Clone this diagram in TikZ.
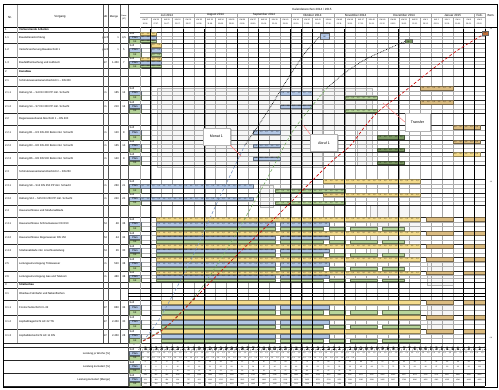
\documentclass[tikz,border=0pt]{standalone}
\usepackage{fontspec}
\setmainfont{Liberation Sans}
\usetikzlibrary{shadows}

\definecolor{gelb}{HTML}{F4DB8C}
\definecolor{blau}{HTML}{B3C7E5}
\definecolor{gruen}{HTML}{B7D59B}
\definecolor{dgruen}{HTML}{7E9B66}
\definecolor{ocker}{HTML}{DCBD82}
\definecolor{rost}{HTML}{BF6F3A}
\definecolor{kurveA}{HTML}{7390C0}
\definecolor{kurveB}{HTML}{6FA85A}

\newcommand{\zbreite}{5.390625}
% Balken: Stil, von Zelle, bis Zelle, Zeile oben, Zeile unten, Teilzeile, Zahl
\newcommand{\balken}[7]{%
  \pgfmathsetmacro{\bxa}{140+#2*\zbreite}%
  \pgfmathsetmacro{\bxb}{140+#3*\zbreite}%
  \pgfmathsetmacro{\bya}{#4+#6*(#5-#4)/3+0.6}%
  \pgfmathsetmacro{\byb}{#4+(#6+1)*(#5-#4)/3-0.6}%
  \draw[#1] (\bxa,\bya) rectangle (\bxb,\byb);%
  \ifx\relax#7\relax\else
    \pgfmathtruncatemacro{\bcl}{#3-1}%
    \foreach \cc in {#2,...,\bcl}
      \node[zahl] at ({140+(\cc+0.5)*\zbreite},{(\bya+\byb)/2}) {#7};%
  \fi}
% Teilzeilen Soll / Plan / Ist
\newcommand{\teilzeilen}[2]{%
  \pgfmathsetmacro{\tha}{#1+(#2-#1)/3}%
  \pgfmathsetmacro{\thb}{#1+2*(#2-#1)/3}%
  \draw[teil] (128,\tha) -- (485,\tha);%
  \draw[teil] (128,\thb) -- (485,\thb);%
  \node[lbl, anchor=west] at (129.5,{(#1+\tha)/2}) {Soll};%
  \draw[fill=blau, draw=blau!50!black, line width=0.3pt] (129,\tha+0.3) rectangle (141,\thb-0.3);%
  \node[lbl] at (135,{(\tha+\thb)/2}) {Plan};%
  \draw[fill=gruen, draw=gruen!50!black, line width=0.3pt] (129,\thb+0.3) rectangle (141,#2-0.3);%
  \node[lbl] at (135,{(\thb+#2)/2}) {Ist};}

\begin{document}
\begin{tikzpicture}[x=1pt, y=-1pt,
  lbl/.style={font=\fontsize{2.7}{3}\selectfont, inner sep=0pt},
  kopf/.style={font=\fontsize{3}{3.4}\selectfont, inner sep=0pt},
  kw/.style={font=\fontsize{1.9}{2.2}\selectfont, inner sep=0pt},
  zahl/.style={font=\fontsize{1.7}{2}\selectfont, inner sep=0pt},
  raster/.style={gray!70, line width=0.3pt},
  zeile/.style={black!85, line width=0.5pt},
  teil/.style={gray!65, line width=0.3pt},
  dick/.style={black, line width=0.9pt},
  kasten/.style={draw=gray!55, fill=gray!7, line width=0.5pt},
  gb/.style={fill=gelb, draw=gelb!60!black, line width=0.2pt},
  bb/.style={fill=blau, draw=blau!55!black, line width=0.2pt},
  grb/.style={fill=gruen, draw=gruen!55!black, line width=0.2pt},
  dgb/.style={fill=dgruen, draw=dgruen!55!black, line width=0.2pt},
  ob/.style={fill=ocker, draw=ocker!55!black, line width=0.2pt},
  endbox/.style={draw=black!60, line width=0.3pt, inner sep=0pt, font=\fontsize{1.7}{2}\selectfont},
  callout/.style={draw=gray!60, fill=white, line width=0.4pt, inner sep=1pt,
    drop shadow={shadow xshift=1.5pt, shadow yshift=-1.5pt, opacity=0.35},
    font=\fontsize{3.6}{4}\selectfont, minimum width=27pt, minimum height=17pt},
  zeiger/.style={red!55!white, line width=0.45pt}]

% Blatt
\fill[white] (0,0) rectangle (499,390);
\useasboundingbox (0,0) rectangle (499,390);

% schattierte Bereiche
\draw[kasten] (157,88) rectangle (322,167);
\draw[kasten] (322,88) rectangle (372,130);
\draw[kasten] (357,130) rectangle (372,165);
\draw[kasten] (260,185) rectangle (273,207);
\draw[kasten] (370,205) rectangle (420,258);
\draw[kasten] (427,258) rectangle (453,285);
\draw[kasten] (427,300) rectangle (453,333);

% Kopf Zeitachse
\node[kopf] (titel) at (312,9.5) {Kalenderwochen 2014 / 2015};
\draw[raster] (140,13) -- (485,13);
\draw[raster] (140,17) -- (485,17);
\foreach \ma/\mb/\mon [count=\i] in {0/5/Juli 2014,5/9/August 2014,9/14/September 2014,14/18/Oktober 2014,18/22/November 2014,22/27/Dezember 2014,27/31/Januar 2015,31/32/Feb.}{
  \draw[gray!70, line width=0.4pt] ({140+\mb*2*\zbreite},13) -- ({140+\mb*2*\zbreite},27);
  \node[kopf] (mon\i) at ({140+(\ma+\mb)*\zbreite},15.2) {\mon};
}
\foreach \kw/\dat [count=\i] in {27/30.06.,28/07.07.,29/14.07.,30/21.07.,31/28.07.,32/04.08.,33/11.08.,34/18.08.,35/25.08.,36/01.09.,37/08.09.,38/15.09.,39/22.09.,40/29.09.,41/06.10.,42/13.10.,43/20.10.,44/27.10.,45/03.11.,46/10.11.,47/17.11.,48/24.11.,49/01.12.,50/08.12.,51/15.12.,52/22.12.,1/29.12.,2/05.01.,3/12.01.,4/19.01.,5/26.01.,6/02.02.}{
  \pgfmathsetmacro{\xr}{140+\i*2*\zbreite}
  \draw[raster] (\xr,17) -- (\xr,386);
  \node[kw] (kw\i) at ({\xr-\zbreite},19.8) {KW \kw};
  \node[kw] (dat\i) at ({\xr-\zbreite},23.6) {\dat};
}

% Kopf Tabelle
\node[kopf] (hnr) at (10,17) {Nr.};
\node[kopf] (hname) at (60,17) {Vorgang};
\node[lbl] (hme) at (105.5,17) {ME};
\node[lbl] (hmg) at (114,17) {Menge};
\node[kw] (hdauer) at (124,15.5) {Dauer};
\node[kw] (hat) at (124,19) {[AT]};
\node[kopf] (hbem) at (491,15) {Bem.};
\draw[black, line width=0.8pt] (3,27) -- (497,27);

% Vorgaenge
\foreach \yt/\yb/\nr/\txt/\me/\mg/\du/\typ [count=\k] in {
  27/32/1/\textbf{Vorbereitende Arbeiten}/{}/{}/{}/s,
  32/43/1.1/Baustelleneinrichtung/psch/1/{4,5}/b,
  43/57/1.2/Verkehrssicherung Bauabschnitt 1/psch/1/5/b,
  57/68/1.3/Baufeldfreimachung und Aufbruch/m²/1.450/7/b,
  68/76/2/\textbf{Kanalbau}/{}/{}/{}/s,
  76/86/2.1/Schmutzwasserkanal Abschnitt 1 -- DN 300/{}/{}/{}/s,
  86/100/2.1.1/Haltung S1 -- S4 DN 300 PP inkl. Schacht/m/185/12/b,
  100/113/2.1.2/Haltung S4 -- S7 DN 300 PP inkl. Schacht/m/210/14/b,
  113/125/2.2/Regenwasserkanal Abschnitt 1 -- DN 400/{}/{}/{}/s,
  125/140/2.2.1/Haltung R1 -- R3 DN 400 Beton inkl. Schacht/m/120/8/b,
  140/152/2.2.2/Haltung R3 -- R6 DN 400 Beton inkl. Schacht/m/165/10/b,
  152/165/2.2.3/Haltung R6 -- R8 DN 500 Beton inkl. Schacht/m/140/9/b,
  165/179/2.3/Schmutzwasserkanal Abschnitt 2 -- DN 250/{}/{}/{}/s,
  179/193/2.3.1/Haltung S8 -- S12 DN 250 PP inkl. Schacht/m/260/21/b,
  193/205/2.3.2/Haltung S12 -- S15 DN 250 PP inkl. Schacht/m/240/20/b,
  205/217/2.4/Hausanschlüsse und Straßenabläufe/{}/{}/{}/s,
  217/231/2.4.1/Hausanschlüsse Schmutzwasser DN 150/St/48/36/b,
  231/244/2.4.2/Hausanschlüsse Regenwasser DN 150/St/44/34/b,
  244/257/2.4.3/Straßenabläufe inkl. Anschlussleitung/St/26/30/b,
  257/271/2.5/Leitungsumverlegung Trinkwasser/m/520/38/b,
  271/282/2.6/Leitungsumverlegung Gas und Telekom/m/480/38/b,
  282/288/3/\textbf{Straßenbau}/{}/{}/{}/s,
  288/300/3.1/Oberbau Fahrbahn und Nebenflächen/{}/{}/{}/s,
  300/315/3.1.1/Frostschutzschicht 0--32/m³/860/34/b,
  315/329/3.1.2/Asphalttragschicht AC 22 TN/m²/2.450/30/b,
  329/343/3.1.3/Asphaltdeckschicht AC 11 DN/m²/2.450/28/b}{
  \draw[zeile] (3,\yb) -- (485,\yb);
  \node[lbl, anchor=west] (nr\k) at (5,{(\yt+\yb)/2}) {\nr};
  \node[lbl, anchor=west] (txt\k) at (19,{(\yt+\yb)/2}) {\txt};
  \node[lbl] (me\k) at (105.5,{(\yt+\yb)/2}) {\me};
  \node[lbl, anchor=east] (mg\k) at (119,{(\yt+\yb)/2}) {\mg};
  \node[lbl] (du\k) at (124,{(\yt+\yb)/2}) {\du};
  \if b\typ \teilzeilen{\yt}{\yb}\fi
}
\node[zahl] (null) at (134,345) {0};

% Summen
\draw[zeile] (3,347) -- (485,347);
\foreach \yt/\yb/\txt [count=\k] in {347/360/{Leistung je Woche [\%]},360/373/{Leistung kumuliert [\%]},373/386/{Leistung kumuliert [Menge]}}{
  \draw[zeile] (3,\yb) -- (485,\yb);
  \node[lbl, anchor=east] (sum\k) at (110,{(\yt+\yb)/2}) {\txt};
  \teilzeilen{\yt}{\yb}
}

% Spalten links
\foreach \x in {103,108,120} \draw[gray!70!black, line width=0.4pt] (\x,4) -- (\x,343);
\draw[gray!70!black, line width=0.4pt] (128,4) -- (128,386);
\draw[raster] (17,4) -- (17,343);
\draw[raster] (140,27) -- (140,386);

% Balken
\balken{gb}{0}{3}{32}{43}{0}{1,0}
\balken{bb}{0}{3}{32}{43}{1}{1,0}
\balken{grb}{0}{3}{32}{43}{2}{1,0}
\balken{gb}{2}{4}{43}{57}{0}{1,0}
\balken{bb}{2}{4}{43}{57}{1}{1,0}
\balken{grb}{2}{4}{43}{57}{2}{1,0}
\balken{gb}{0}{4}{57}{68}{0}{1,0}
\balken{bb}{0}{4}{57}{68}{1}{1,0}
\balken{grb}{0}{4}{57}{68}{2}{1,0}
\foreach \yt/\yb in {86/100,100/113}{
  \balken{ob}{52}{58}{\yt}{\yb}{0}{1,0}
  \balken{bb}{26}{32}{\yt}{\yb}{1}{1,0}
  \balken{grb}{38}{44}{\yt}{\yb}{2}{1,0}
}
\foreach \yt/\yb/\st in {125/140/ob,140/152/ob,152/165/gb}{
  \balken{\st}{58}{63}{\yt}{\yb}{0}{1,0}
  \balken{bb}{21}{26}{\yt}{\yb}{1}{1,0}
  \balken{dgb}{44}{49}{\yt}{\yb}{2}{1,0}
}
\foreach \yt/\yb in {179/193,193/205}{
  \balken{gb}{34}{52}{\yt}{\yb}{0}{1,0}
  \balken{bb}{0}{21}{\yt}{\yb}{1}{1,0}
  \balken{grb}{25}{38}{\yt}{\yb}{2}{1,0}
}
\foreach \yt/\yb in {217/231,231/244,244/257,257/271,271/282}{
  \balken{gb}{3}{52}{\yt}{\yb}{0}{1,0}
  \balken{ob}{53}{58}{\yt}{\yb}{0}{}
  \balken{ob}{60}{64}{\yt}{\yb}{0}{}
  \balken{bb}{3}{25}{\yt}{\yb}{1}{1,0}
  \balken{bb}{26}{35}{\yt}{\yb}{1}{1,0}
  \balken{grb}{3}{25}{\yt}{\yb}{2}{}
  \balken{grb}{26}{34}{\yt}{\yb}{2}{}
  \balken{grb}{35}{38}{\yt}{\yb}{2}{}
  \balken{grb}{39}{44}{\yt}{\yb}{2}{}
  \balken{grb}{45}{49}{\yt}{\yb}{2}{}
}
\foreach \yt/\yb in {300/315,315/329,329/343}{
  \balken{gb}{4}{52}{\yt}{\yb}{0}{}
  \balken{ob}{53}{58}{\yt}{\yb}{0}{}
  \balken{ob}{60}{64}{\yt}{\yb}{0}{}
  \balken{bb}{4}{25}{\yt}{\yb}{1}{}
  \balken{bb}{26}{35}{\yt}{\yb}{1}{}
  \balken{grb}{4}{25}{\yt}{\yb}{2}{}
  \balken{grb}{26}{34}{\yt}{\yb}{2}{}
  \balken{grb}{35}{38}{\yt}{\yb}{2}{}
  \balken{grb}{39}{44}{\yt}{\yb}{2}{}
  \balken{grb}{45}{52}{\yt}{\yb}{2}{}
}

% Stichtage
\foreach \w in {1,4,6,9,11,14,15,16,19,24,30,31,32}
  \draw[dick] ({140+\w*2*\zbreite},29.5) -- ({140+\w*2*\zbreite},386);
\draw[dick] (128,293.5) -- (485,293.5);
\draw[dick] (128,296.5) -- (485,296.5);

% Summenzahlen
\foreach \cc in {0,...,63}{
  \pgfmathsetmacro{\xm}{140+(\cc+0.5)*\zbreite}
  \pgfmathsetmacro{\va}{3.4-0.035*\cc}
  \node[zahl] at (\xm,349.3) {\pgfmathprintnumber[fixed,fixed zerofill,precision=1,use comma]{\va}};
  \node[zahl] at (\xm,353.5) {1,6};
  \ifnum\cc<40 \node[zahl] at (\xm,357.8) {1,4};\fi
}
\foreach \i in {1,...,32}{
  \pgfmathsetmacro{\xm}{140+(\i-0.5)*2*\zbreite}
  \pgfmathsetmacro{\qa}{\i/32}
  \pgfmathtruncatemacro{\wsa}{100*(1-(1-\qa)^2)}
  \pgfmathtruncatemacro{\wsb}{100*\qa}
  \pgfmathtruncatemacro{\wsc}{85*\qa}
  \pgfmathtruncatemacro{\wma}{4850*(1-(1-\qa)^2)}
  \pgfmathtruncatemacro{\wmb}{4850*\qa}
  \pgfmathtruncatemacro{\wmc}{4100*\qa}
  \node[zahl] at (\xm,362.2) {\wsa};
  \node[zahl] at (\xm,366.5) {\wsb};
  \node[zahl] at (\xm,375.2) {\wma};
  \node[zahl] at (\xm,379.5) {\wmb};
  \ifnum\i<21 \node[zahl] at (\xm,370.8) {\wsc};\node[zahl] at (\xm,383.8) {\wmc};\fi
}
\node[zahl] (bem1) at (491,29.5) {1,0};
\node[zahl] (bem2) at (491,182) {1,0};
\node[zahl] (bem3) at (491,338) {0,8};

% Kurven
\coordinate (start) at (143,341);
\node[endbox, fill=blau, minimum width=9pt, minimum height=6pt] (endA) at (324.5,36.5) {100};
\node[endbox, fill=dgruen, minimum width=7pt, minimum height=4pt] (endB) at (408.5,41.5) {100};
\node[endbox, fill=rost, minimum width=6pt, minimum height=4.5pt] (endC) at (485,33) {100};
\draw[kurveA, densely dashed, line width=0.55pt] plot[smooth] coordinates {(start) (160,318) (190,262) (216,205) (245,145)};
\draw[black, densely dotted, line width=0.65pt] plot[smooth] coordinates {(245,145) (266,114) (287,80) (305,53) (endA.west)};
\draw[kurveB, densely dashed, line width=0.55pt] plot[smooth] coordinates {(start) (172,322) (200,290) (230,244) (262,188) (293,131) (327,88)};
\draw[black, densely dotted, line width=0.65pt] plot[smooth] coordinates {(327,88) (346,72) (368,58) (endB.west)};
\draw[red!80!black, densely dashed, line width=0.6pt] plot[smooth] coordinates {(start) (165,328) (198,295) (232,260) (281,212) (330,163) (350,146) (366,125) (380,110) (400,95) (425,75) (455,52) (endC.south west)};

% Hinweise
\node[callout] (monat) at (216.5,136.5) {Monat 1};
\node[callout] (abruf) at (324,143) {Abruf 1};
\node[callout, minimum width=25pt, minimum height=18pt] (transfer) at (417.5,122) {Transfer};
\coordinate (aufA) at (241,156);
\coordinate (aufB) at (303,125);
\coordinate (aufC) at (383,103);
\draw[zeiger] (monat.south east) -- (aufA);
\draw[zeiger] (abruf.north west) -- (aufB);
\draw[zeiger] (transfer.west) -- (aufC);

% Rahmen
\draw[black, line width=0.6pt] (3,4) rectangle (497,387);
\end{tikzpicture}
\end{document}
